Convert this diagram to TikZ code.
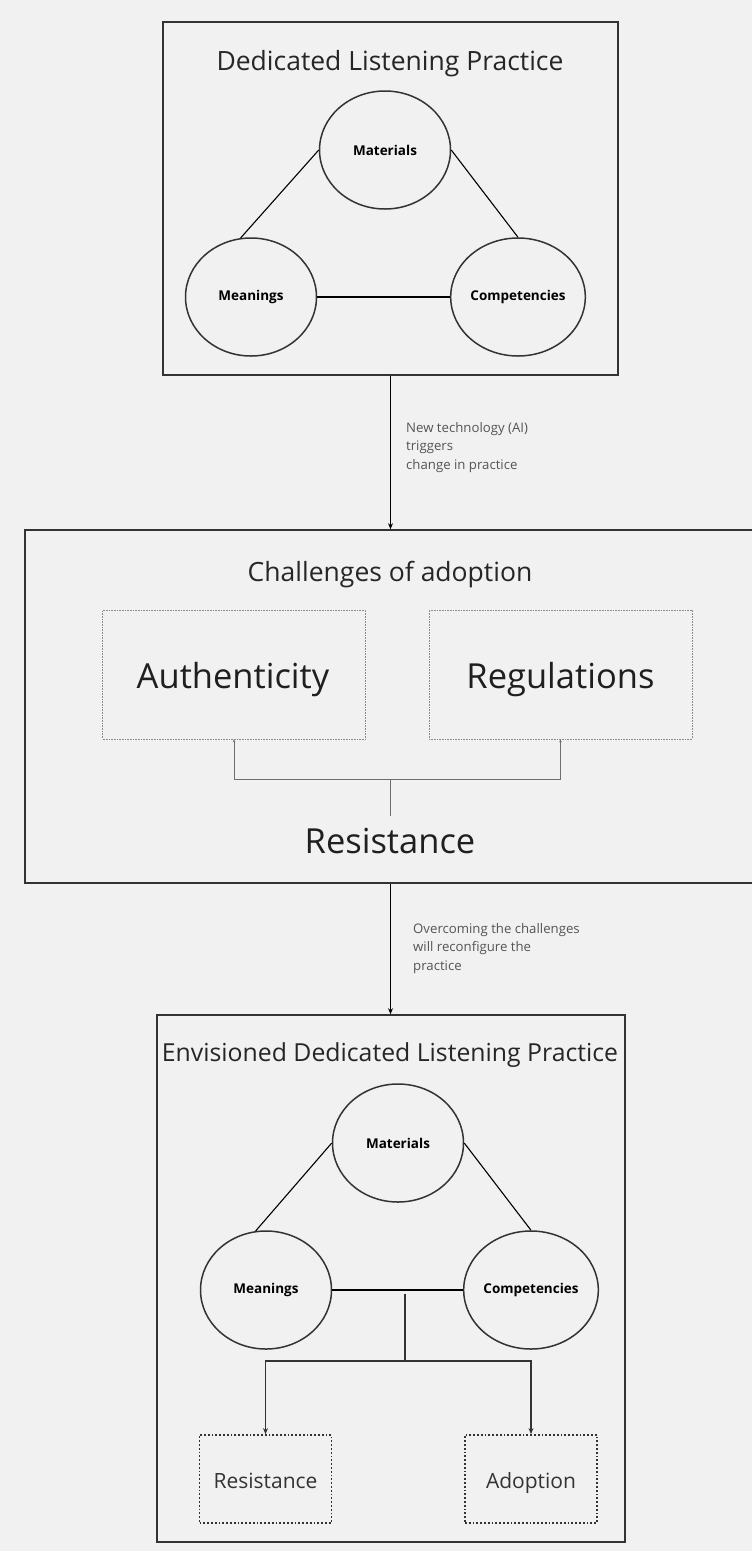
\documentclass[tikz,border=0pt]{standalone}
\usepackage{fontspec}
\setmainfont{Open Sans}
\usetikzlibrary{shapes.geometric,arrows.meta}
\definecolor{bgcol}{HTML}{F1F1F1}
\definecolor{edge}{HTML}{333333}
\definecolor{note}{HTML}{555555}
\definecolor{faint}{HTML}{8A8A8A}
\begin{document}
\begin{tikzpicture}[x=1pt,y=-1pt,every node/.style={inner sep=0pt},
  frame/.style={draw=edge,line width=1.6pt},
  head/.style={anchor=base,font=\fontsize{26.5}{32}\selectfont,text=black!85},
  big/.style={anchor=base,font=\fontsize{34.5}{40}\selectfont,text=black!88},
  circ/.style={ellipse,draw=edge,line width=1.5pt,minimum width=131pt,minimum height=118pt,font=\bfseries\fontsize{13.5}{16}\selectfont},
  link/.style={draw=black,line width=1.1pt},
  flow/.style={draw=black,line width=1.7pt,-{Stealth[length=6pt,width=5pt]}},
  note/.style={align=left,anchor=north west,text=note,font=\fontsize{13.2}{18.5}\selectfont},
  hazy/.style={draw=faint,densely dotted,line width=0.6pt,minimum width=263pt,minimum height=129pt},
  thin/.style={draw=faint!80!black,line width=0.9pt,-{Stealth[length=3pt,width=2.5pt]}},
  dots/.style={draw=edge,dotted,line width=1.8pt,minimum width=132pt,minimum height=88pt},
  small/.style={anchor=base,font=\fontsize{21}{25}\selectfont,text=black!80},
  fork/.style={draw=edge,line width=1.5pt,-{Stealth[length=6pt,width=5pt]}}]
\fill[bgcol] (0,0) rectangle (752,1551);
\useasboundingbox (0,0) rectangle (752,1551);
\clip (0,0) rectangle (752,1551);
\node[frame,minimum width=455pt,minimum height=353pt] (top) at (390.5,198.5) {};
\node[head] (t1) at (390,70.5) {Dedicated Listening Practice};
\node[circ] (mat1) at (385,150) {Materials};
\node[circ] (mean1) at (251,297) {Meanings};
\node[circ] (comp1) at (518,297) {Competencies};
\draw[link] (mat1.west) -- (mean1.100);
\draw[link] (mat1.east) -- (comp1.north);
\draw[link] (mean1.east) -- (comp1.west);
\node[frame,minimum width=760pt,minimum height=353pt] (mid) at (405,706.5) {};
\draw[flow] (top.south) -- (top.south |- mid.north);
\node[note] (n1) at (406,422) {New technology (AI)\\triggers\\change in practice};
\node[head] (t2) at (390,581) {Challenges of adoption};
\node[hazy] (auth) at (234,674.5) {};
\node[big] (authl) at (233,688) {Authenticity};
\node[hazy] (reg) at (560.5,674.5) {};
\node[big] (regl) at (560.5,688) {Regulations};
\node[big] (res) at (390,853) {Resistance};
\coordinate (j0) at (390,816);
\draw[draw=faint!80!black,line width=0.9pt] (j0) -- (390,779) coordinate (j1);
\draw[thin] (j1) -| (auth.south);
\draw[thin] (j1) -| (reg.south);
\node[frame,minimum width=468pt,minimum height=527pt] (bot) at (391,1278.5) {};
\draw[flow] (top.south |- mid.south) -- (top.south |- bot.north);
\node[note] (n2) at (413,923) {Overcoming the challenges\\will reconfigure the\\practice};
\node[head,font=\fontsize{24.8}{30}\selectfont] (t3) at (390,1061) {Envisioned Dedicated Listening Practice};
\node[circ] (mat2) at (398,1143) {Materials};
\node[circ] (mean2) at (266,1290) {Meanings};
\node[circ] (comp2) at (531,1290) {Competencies};
\draw[link] (mat2.west) -- (mean2.100);
\draw[link] (mat2.east) -- (comp2.north);
\draw[link] (mean2.east) -- (comp2.west);
\node[dots] (res2) at (265.5,1479) {};
\node[small] (res2l) at (265.5,1488) {Resistance};
\node[dots] (adop) at (531,1479) {};
\node[small] (adopl) at (531,1488) {Adoption};
\coordinate (j2) at (405,1294);
\draw[draw=edge,line width=1.5pt] (j2) -- (405,1361) coordinate (j3);
\draw[fork] (j3) -| (res2.north);
\draw[fork] (j3) -| (adop.north);
\end{tikzpicture}
\end{document}
